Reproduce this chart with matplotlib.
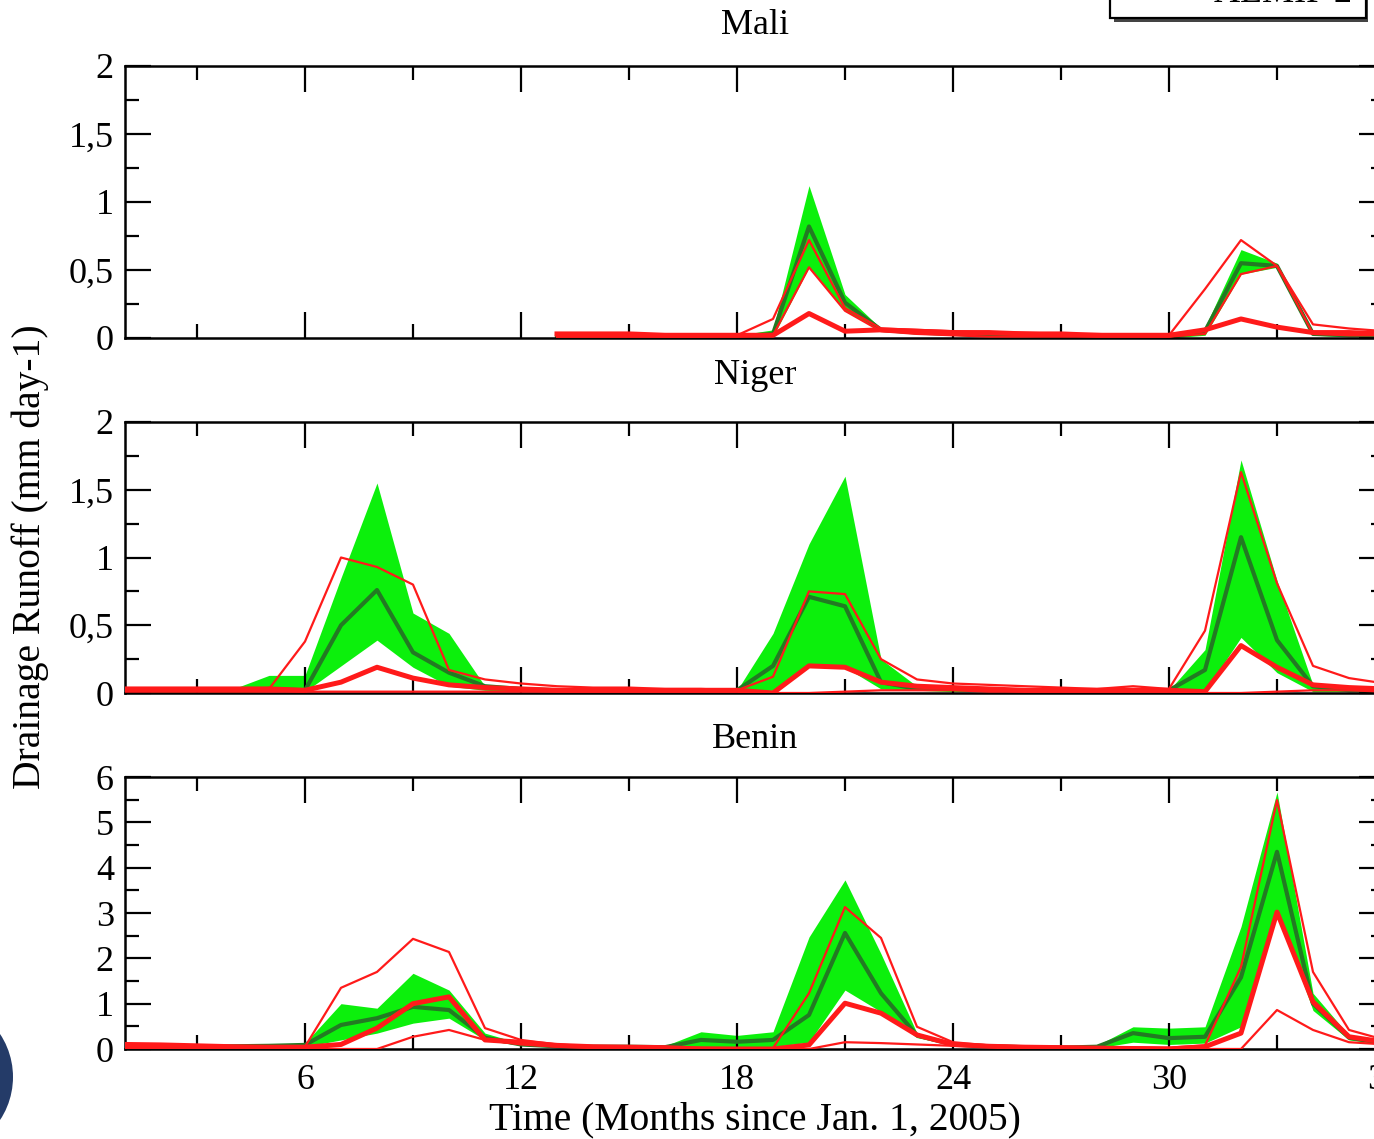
import numpy as np
import matplotlib
matplotlib.use("Agg")
import matplotlib.pyplot as plt
from matplotlib.ticker import MultipleLocator, FuncFormatter
from matplotlib.patches import Rectangle, Ellipse

plt.rcParams['font.family'] = ['Liberation Serif', 'DejaVu Serif']

months = np.arange(1, 37)
nan = np.nan

# ---- Mali (no data before month 13) ----
mali_gmax = [nan]*12 + [.02, .02, .02, .02, .02, .02, .06, 1.12, .32, .07, .05, .04,
                        .03, .03, .02, .02, .02, .02, .08, .65, .55, .04, .03, .03]
mali_gmean = [nan]*12 + [.01, .01, .01, .01, .01, .01, .03, .82, .26, .06, .04, .03,
                         .02, .02, .01, .01, .01, .01, .05, .55, .53, .03, .02, .02]
mali_gmin = [nan]*12 + [.00, .00, .00, .00, .00, .00, .01, .52, .20, .05, .03, .02,
                        .01, .01, .00, .00, .00, .00, .02, .47, .52, .02, .01, .01]
mali_r_hi = [nan]*12 + [.01, .01, .01, .01, .01, .02, .14, .72, .22, .07, .06, .05,
                        .04, .04, .03, .03, .02, .02, .36, .72, .53, .10, .07, .05]
mali_r_lo = [nan]*12 + [.01, .01, .01, .01, .01, .01, .02, .52, .20, .05, .03, .02,
                        .01, .01, .01, .01, .01, .01, .03, .47, .53, .03, .02, .02]
mali_r_mean = [nan]*12 + [.03, .03, .03, .02, .02, .02, .02, .18, .05, .06, .05, .04,
                          .04, .03, .03, .02, .02, .02, .06, .14, .08, .04, .04, .03]

# ---- Niger ----
niger_gmax = [.03, .03, .03, .03, .13, .13, .85, 1.55, .59, .44, .05, .04,
              .03, .03, .03, .02, .02, .02, .44, 1.10, 1.60, .25, .05, .04,
              .03, .03, .02, .02, .02, .02, .32, 1.72, .83, .06, .03, .02]
niger_gmean = [.02, .02, .02, .02, .03, .02, .50, .76, .30, .15, .05, .03,
               .02, .02, .02, .02, .02, .02, .20, .71, .64, .08, .03, .03,
               .02, .02, .02, .02, .02, .02, .17, 1.15, .39, .05, .02, .02]
niger_gmin = [.00, .00, .00, .00, .01, .01, .20, .39, .19, .05, .02, .01,
              .01, .01, .01, .01, .01, .01, .02, .20, .19, .03, .02, .01,
              .01, .01, .01, .01, .01, .01, .01, .41, .15, .01, .01, .01]
niger_r_hi = [.02, .02, .02, .02, .03, .38, 1.00, .93, .80, .17, .10, .07,
              .05, .04, .04, .03, .03, .02, .12, .75, .73, .25, .10, .07,
              .06, .05, .04, .03, .05, .03, .46, 1.63, .81, .20, .11, .07]
niger_r_lo = [.01, .01, .01, .01, .01, .01, .01, .01, .01, .01, .01, .01,
              .01, .01, .01, .01, .01, .01, .00, .00, .01, .02, .02, .02,
              .01, .01, .01, .01, .01, .01, .00, .00, .01, .02, .02, .01]
niger_r_mean = [.03, .03, .03, .03, .03, .02, .08, .19, .11, .06, .04, .03,
                .02, .02, .02, .02, .02, .02, .00, .20, .19, .08, .05, .04,
                .03, .02, .02, .02, .02, .02, .01, .35, .19, .06, .04, .03]

# ---- Benin ----
benin_gmax = [.08, .08, .08, .09, .10, .13, 1.00, .90, 1.67, 1.30, .35, .12,
              .08, .07, .08, .07, .38, .30, .38, 2.47, 3.73, 2.10, .35, .12,
              .08, .06, .05, .08, .49, .46, .49, 2.70, 5.67, 1.23, .30, .15]
benin_gmean = [.05, .05, .05, .06, .07, .09, .53, .68, .93, .86, .25, .10,
               .06, .05, .05, .04, .20, .16, .20, .75, 2.56, 1.23, .30, .10,
               .06, .04, .03, .05, .35, .24, .27, 1.58, 4.35, 1.00, .25, .12]
benin_gmin = [.02, .02, .02, .03, .04, .05, .20, .35, .57, .68, .20, .08,
              .04, .03, .03, .02, .05, .05, .05, .15, 1.30, .82, .25, .08,
              .04, .02, .02, .02, .15, .10, .13, .49, 3.05, .85, .20, .10]
benin_r_hi = [.10, .08, .07, .06, .05, .05, 1.35, 1.70, 2.43, 2.14, .46, .20,
              .10, .06, .05, .04, .03, .02, .02, 1.23, 3.13, 2.45, .49, .15,
              .08, .06, .05, .04, .04, .03, .08, 1.81, 5.49, 1.70, .42, .20]
benin_r_lo = [.02, .02, .01, .01, .01, .01, .00, .00, .27, .42, .20, .10,
              .05, .03, .02, .02, .01, .01, .00, .00, .15, .13, .10, .07,
              .05, .03, .02, .02, .01, .01, .00, .00, .86, .42, .15, .10]
benin_r_mean = [.10, .09, .07, .05, .04, .04, .10, .46, 1.00, 1.15, .20, .15,
                .08, .05, .04, .03, .00, .00, .00, .09, 1.01, .79, .31, .10,
                .06, .04, .03, .02, .01, .00, .05, .35, 3.02, 1.04, .27, .15]

regions = ["Mali", "Niger", "Benin"]
series = {
    "Mali": (mali_gmin, mali_gmax, mali_gmean, mali_r_hi, mali_r_lo, mali_r_mean),
    "Niger": (niger_gmin, niger_gmax, niger_gmean, niger_r_hi, niger_r_lo, niger_r_mean),
    "Benin": (benin_gmin, benin_gmax, benin_gmean, benin_r_hi, benin_r_lo, benin_r_mean),
}
ylims = {"Mali": (0, 2), "Niger": (0, 2), "Benin": (0, 6)}
ymajor = {"Mali": 0.5, "Niger": 0.5, "Benin": 1}
yminor = {"Mali": 0.25, "Niger": 0.25, "Benin": 0.5}
xticks = [6, 12, 18, 24, 30, 36]

W, H = 1374, 1139
fig = plt.figure(figsize=(W / 100, H / 100), dpi=100)

# axes boxes in pixels: (left, top, right, bottom) and title centre row
boxes = {"Mali": (125, 66, 1385, 338),
         "Niger": (125, 422, 1385, 693),
         "Benin": (125, 777, 1385, 1049)}
title_y = {"Mali": 26, "Niger": 375, "Benin": 739}

green_fill = "#0cf00c"
dark_green = "#237a23"
red = "#ff1a1a"

comma = FuncFormatter(lambda v, p: ("%g" % v).replace(".", ","))

for name in regions:
    l, t, r, b = boxes[name]
    ax = fig.add_axes([l / W, 1 - b / H, (r - l) / W, (b - t) / H])
    gmin, gmax, gmean, rhi, rlo, rmean = (np.array(s, dtype=float) for s in series[name])
    ax.fill_between(months, gmin, gmax, color=green_fill, lw=0, zorder=1)
    ax.plot(months, gmean, color=dark_green, lw=3.0, zorder=2)
    ax.plot(months, rhi, color=red, lw=1.6, zorder=3)
    ax.plot(months, rlo, color=red, lw=1.6, zorder=3)
    ax.plot(months, rmean, color=red, lw=3.6, zorder=4)

    ax.set_xlim(1, 36)
    ax.set_ylim(*ylims[name])
    ax.xaxis.set_major_locator(MultipleLocator(6))
    ax.xaxis.set_minor_locator(MultipleLocator(3))
    ax.yaxis.set_major_locator(MultipleLocator(ymajor[name]))
    ax.yaxis.set_minor_locator(MultipleLocator(yminor[name]))
    ax.yaxis.set_major_formatter(comma)
    ax.tick_params(which="both", direction="in", top=True, right=True,
                   width=1.6, labelsize=26)
    ax.tick_params(axis="y", pad=8)
    ax.tick_params(axis="x", pad=11)
    ax.tick_params(which="major", length=19)
    ax.tick_params(which="minor", length=10)
    for sp in ax.spines.values():
        sp.set_linewidth(1.8)
    if name != "Benin":
        ax.tick_params(axis="x", labelbottom=False)
    else:
        ax.set_xticks(xticks)
    fig.text((l + r) / 2 / W, 1 - title_y[name] / H, name, ha="center",
             va="center", fontsize=26)

fig.text(755 / W, 1 - 1120 / H, "Time (Months since Jan. 1, 2005)",
         ha="center", va="center", fontsize=28.5)
fig.text(30 / W, 1 - 557 / H, "Drainage Runoff (mm day-1)", rotation=90,
         ha="center", va="center", fontsize=28.5)

# legend box, partly above the canvas
fig.add_artist(Rectangle((1114 / W, 1 - 22 / H), 254 / W, 40 / H,
                         transform=fig.transFigure, facecolor="#444444",
                         edgecolor="none", zorder=9))
fig.add_artist(Rectangle((1110 / W, 1 - 18 / H), 256 / W, 40 / H,
                         transform=fig.transFigure, facecolor="white",
                         edgecolor="black", lw=1.6, zorder=10))
fig.text(1283 / W, 1 + 6 / H, "ALMIP 2", ha="center", va="center",
         fontsize=26, zorder=11)

# dark disc at the lower-left corner
fig.add_artist(Ellipse((-65 / W, 1 - 1077 / H), 2 * 78 / W, 2 * 78 / H,
                       transform=fig.transFigure, facecolor="#243b68",
                       edgecolor="none", zorder=12))

fig.savefig("out.png", dpi=100)
